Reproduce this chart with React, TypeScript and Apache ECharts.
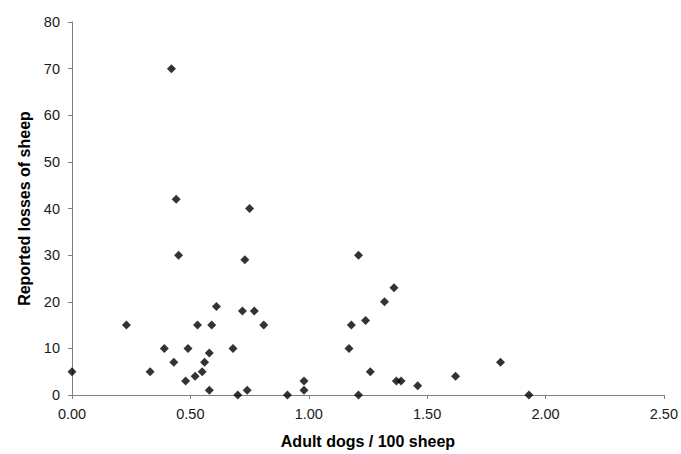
import React, { useEffect, useRef } from "react";
import * as echarts from "echarts";

const dogsPer100Sheep = [
  0.0, 0.23, 0.33, 0.39, 0.43, 0.45, 0.49, 0.48, 0.52, 0.53, 0.55, 0.56, 0.58, 0.58, 0.59, 0.61,
  0.68, 0.7, 0.72, 0.73, 0.74, 0.77, 0.81, 0.91, 0.98, 0.98, 0.42, 0.44, 0.75,
  1.21, 1.36, 1.32, 1.24, 1.18, 1.17, 1.26, 1.37, 1.39, 1.46, 1.62, 1.81, 1.21, 1.93,
];
const sheepLosses = [
  5, 15, 5, 10, 7, 30, 10, 3, 4, 15, 5, 7, 9, 1, 15, 19,
  10, 0, 18, 29, 1, 18, 15, 0, 3, 1, 70, 42, 40,
  30, 23, 20, 16, 15, 10, 5, 3, 3, 2, 4, 7, 0, 0,
];
const xTickLabels = ["0.00", "0.50", "1.00", "1.50", "2.00", "2.50"];

export default function App() {
  const ref = useRef<HTMLDivElement>(null);
  useEffect(() => {
    if (!ref.current) return;
    const chart = echarts.init(ref.current, null, { renderer: "svg" });
    const font = "Liberation Sans, Arial, sans-serif";
    chart.setOption({
      animation: false,
      backgroundColor: "#ffffff",
      grid: { left: 72, right: 17, top: 22, bottom: 55, containLabel: false },
      xAxis: {
        type: "value",
        min: 0,
        max: 2.5,
        interval: 0.5,
        name: "Adult dogs / 100 sheep",
        nameLocation: "middle",
        nameGap: 38,
        nameTextStyle: { fontFamily: font, fontSize: 16, fontWeight: "bold", color: "#000" },
        axisLine: { show: true, lineStyle: { color: "#808080", width: 1 } },
        axisTick: { show: true, length: 4, lineStyle: { color: "#808080" } },
        axisLabel: {
          fontFamily: font,
          fontSize: 14.5,
          color: "#1a1a1a",
          margin: 11,
          formatter: (v: number) => xTickLabels[Math.round(v / 0.5)] ?? v.toFixed(2),
        },
        splitLine: { show: false },
      },
      yAxis: {
        type: "value",
        min: 0,
        max: 80,
        interval: 10,
        name: "Reported losses of sheep",
        nameLocation: "middle",
        nameGap: 38,
        nameTextStyle: { fontFamily: font, fontSize: 16, fontWeight: "bold", color: "#000" },
        axisLine: { show: true, lineStyle: { color: "#808080", width: 1 } },
        axisTick: { show: true, length: 4, lineStyle: { color: "#808080" } },
        axisLabel: { fontFamily: font, fontSize: 14.5, color: "#1a1a1a", margin: 12 },
        splitLine: { show: false },
      },
      series: [
        {
          type: "scatter",
          symbol: "diamond",
          symbolSize: 9,
          itemStyle: { color: "#000000" },
          data: dogsPer100Sheep.map((x, i) => [x, sheepLosses[i]]),
        },
      ],
    });
    return () => chart.dispose();
  }, []);
  return <div ref={ref} style={{ width: 681, height: 454, position: "absolute", left: 0, top: 0 }} />;
}
